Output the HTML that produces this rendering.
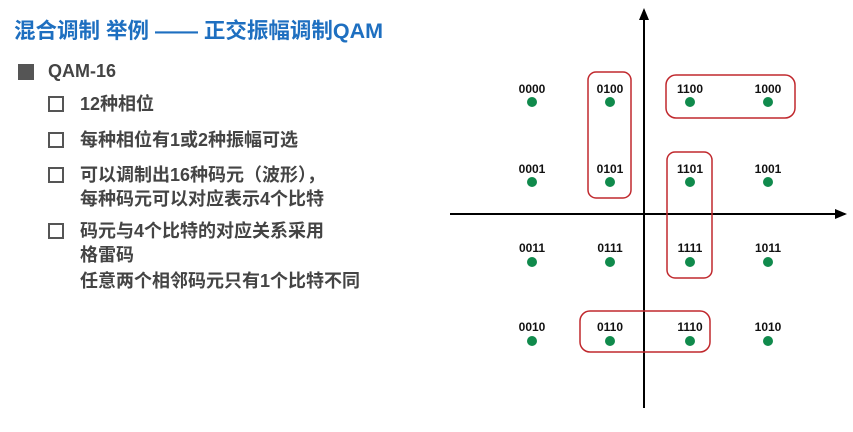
<!DOCTYPE html>
<html><head><meta charset="utf-8"><style>
body{margin:0;width:853px;height:432px;background:#fff;position:relative;overflow:hidden;font-family:"Liberation Sans","Noto Sans CJK SC",sans-serif;}
.t{position:absolute;white-space:nowrap;}
.title{left:14px;top:14px;font-size:21.5px;font-weight:bold;color:#1e6fc0;}
.l1{left:48px;top:61px;font-size:18px;font-weight:bold;color:#444;}
.sq{position:absolute;left:18px;top:64px;width:16px;height:16px;background:#555;}
.cb{position:absolute;left:48px;width:16px;height:16px;border:2px solid #555;box-sizing:border-box;}
.it{left:80px;font-size:18px;font-weight:bold;color:#444;line-height:24px;}
</style></head><body>
<div class="t title">混合调制 举例 —— 正交振幅调制QAM</div>
<div class="sq"></div><div class="t l1">QAM-16</div>
<div class="cb" style="top:96px"></div><div class="t it" style="top:92px">12种相位</div>
<div class="cb" style="top:132px"></div><div class="t it" style="top:128px">每种相位有1或2种振幅可选</div>
<div class="cb" style="top:167px"></div><div class="t it" style="top:163px">可以调制出16种码元（波形），<br>每种码元可以对应表示4个比特</div>
<div class="cb" style="top:223px"></div><div class="t it" style="top:219px">码元与4个比特的对应关系采用<br>格雷码</div>
<div class="t it" style="top:269px">任意两个相邻码元只有1个比特不同</div>
<svg width="853" height="432" style="position:absolute;left:0;top:0" font-family="Liberation Sans" font-weight="bold" font-size="12">
<defs><marker id="a" markerWidth="6" markerHeight="6" refX="5" refY="3" orient="auto"><path d="M0,0.5 L6,3 L0,5.5 z" fill="#000"/></marker></defs>
<line x1="644" y1="408" x2="644" y2="10" stroke="#000" stroke-width="2" marker-end="url(#a)"/>
<line x1="450" y1="214" x2="845" y2="214" stroke="#000" stroke-width="2" marker-end="url(#a)"/>
<g fill="none" stroke="#c0282d" stroke-width="1.5">
<rect x="588" y="72" width="43" height="126" rx="8"/>
<rect x="666" y="75" width="129" height="43" rx="10"/>
<rect x="667" y="152" width="45" height="126" rx="8"/>
<rect x="580" y="311" width="130" height="41" rx="10"/>
</g>
<g fill="#108a4c">
<circle cx="532" cy="102" r="5"/><circle cx="610" cy="102" r="5"/><circle cx="690" cy="102" r="5"/><circle cx="768" cy="102" r="5"/>
<circle cx="532" cy="182" r="5"/><circle cx="610" cy="182" r="5"/><circle cx="690" cy="182" r="5"/><circle cx="768" cy="182" r="5"/>
<circle cx="532" cy="262" r="5"/><circle cx="610" cy="262" r="5"/><circle cx="690" cy="262" r="5"/><circle cx="768" cy="262" r="5"/>
<circle cx="532" cy="341" r="5"/><circle cx="610" cy="341" r="5"/><circle cx="690" cy="341" r="5"/><circle cx="768" cy="341" r="5"/>
</g>
<g text-anchor="middle" fill="#111">
<text x="532" y="93">0000</text><text x="610" y="93">0100</text><text x="690" y="93">1100</text><text x="768" y="93">1000</text>
<text x="532" y="173">0001</text><text x="610" y="173">0101</text><text x="690" y="173">1101</text><text x="768" y="173">1001</text>
<text x="532" y="252">0011</text><text x="610" y="252">0111</text><text x="690" y="252">1111</text><text x="768" y="252">1011</text>
<text x="532" y="331">0010</text><text x="610" y="331">0110</text><text x="690" y="331">1110</text><text x="768" y="331">1010</text>
</g>
</svg>
</body></html>
